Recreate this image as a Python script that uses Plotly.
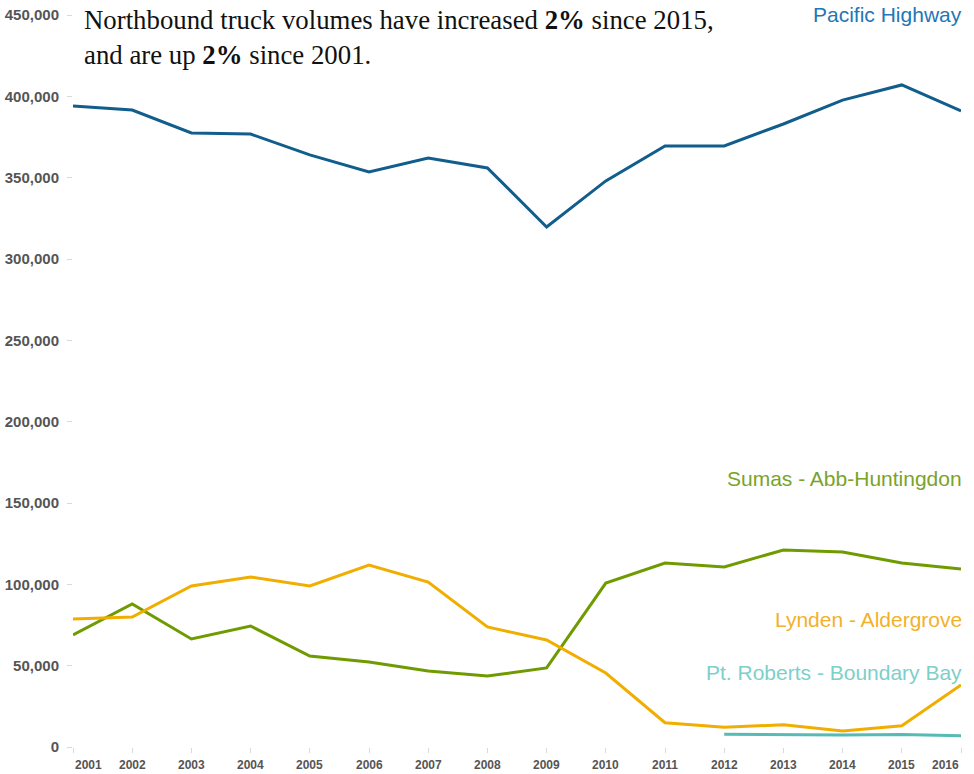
import plotly.graph_objects as go

years = list(range(2001, 2017))
pacific_highway = [394000, 391600, 377500, 376800, 364000, 353500, 362100, 356000,
                   319700, 348000, 369500, 369500, 383000, 397700, 407000, 391000]
sumas = [68900, 87900, 66400, 74400, 55900, 52300, 46700, 43600,
         48600, 100800, 113100, 110700, 121100, 119900, 113100, 109400]
lynden = [78700, 79900, 99000, 104500, 99000, 111900, 101400, 73800,
          65800, 45500, 14900, 12100, 13700, 9800, 13100, 38100]
pt_roberts_years = [2012, 2013, 2014, 2015, 2016]
pt_roberts = [7800, 7400, 7400, 7700, 6900]

y_ticks = [0, 50000, 100000, 150000, 200000, 250000, 300000, 350000, 400000, 450000]
y_tick_labels = ["0", "50,000", "100,000", "150,000", "200,000", "250,000",
                 "300,000", "350,000", "400,000", "450,000"]
y_max = 450000

series_names = ["Pacific Highway", "Sumas - Abb-Huntingdon", "Lynden - Aldergrove",
                "Pt. Roberts - Boundary Bay"]
line_colors = ["#115d8c", "#6f9b00", "#f0ae00", "#56bbb4"]
label_colors = ["#2376b5", "#7aa32a", "#f2b12b", "#7dcfc9"]

fig = go.Figure()
series = [(years, pacific_highway), (years, sumas), (years, lynden), (pt_roberts_years, pt_roberts)]
for (xs, ys), name, col in zip(series, series_names, line_colors):
    fig.add_trace(go.Scatter(x=xs, y=ys, mode="lines", name=name,
                             line=dict(color=col, width=3), showlegend=False,
                             hoverinfo="x+y"))

# label vertical positions (paper fraction of the plot height) and pixel nudges
label_pos = [1.0, 0.3633, 0.1707, 0.0973]
label_shift = [0.5, 3, 3, 3]
for name, col, ly, ys in zip(series_names, label_colors, label_pos, label_shift):
    fig.add_annotation(x=1, xref="paper", xshift=3, y=ly, yref="paper", yshift=ys,
                       xanchor="right", yanchor="middle",
                       text=name, showarrow=False,
                       font=dict(family="Liberation Sans, Arial", size=21, color=col))

for yr in years:
    anchor = "center"
    if yr == years[0]:
        anchor = "left"
    elif yr == years[-1]:
        anchor = "right"
    fig.add_annotation(x=yr, xref="x", y=0, yref="paper", xanchor=anchor, yanchor="top",
                       yshift=-9, text="<b>%d</b>" % yr, showarrow=False,
                       font=dict(family="Liberation Sans, Arial", size=12, color="#555555"))

fig.add_annotation(x=0, xref="paper", xshift=9, y=1, yref="paper", yshift=12,
                   xanchor="left", yanchor="top", align="left", showarrow=False,
                   text="Northbound truck volumes have increased <b>2%</b> since 2015,<br>and are up <b>2%</b> since 2001.",
                   font=dict(family="Liberation Serif, Times New Roman", size=26.8, color="#111111"))

fig.update_xaxes(range=[2001, 2016], showgrid=False, zeroline=False, showline=False,
                 tickmode="array", tickvals=years, showticklabels=False,
                 ticks="outside", ticklen=5, tickcolor="#d9d9d9", tickwidth=1)
fig.update_yaxes(range=[0, y_max], showgrid=False, zeroline=False, showline=False,
                 tickmode="array", tickvals=y_ticks, ticktext=["<b>%s</b>" % t for t in y_tick_labels],
                 ticks="outside", ticklen=5, tickcolor="#d9d9d9", tickwidth=1,
                 ticklabelstandoff=5, automargin=False,
                 tickfont=dict(family="Liberation Sans, Arial", size=15, color="#555555"))

fig.update_layout(width=974, height=774, autosize=False,
                  margin=dict(l=73, r=13, t=15, b=27, autoexpand=False),
                  plot_bgcolor="white", paper_bgcolor="white")

fig.write_html("out.html", config={"displayModeBar": False},
               post_script="document.body.style.margin='0';document.body.style.overflow='hidden';")
